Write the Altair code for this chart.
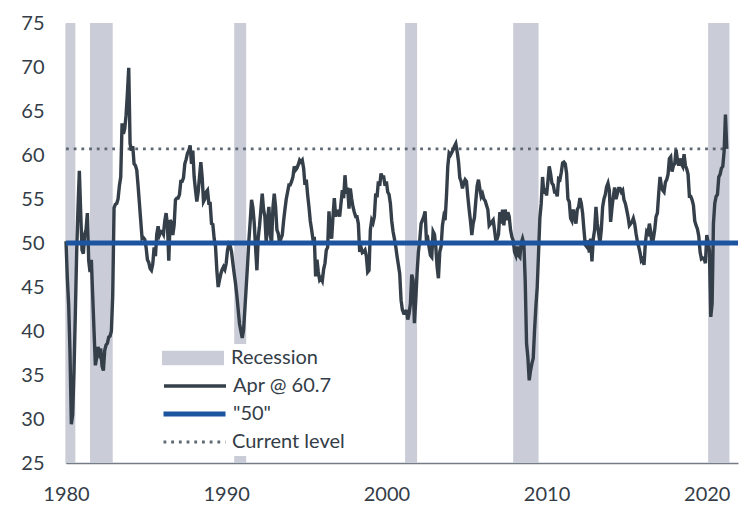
import altair as alt
import pandas as pd

# ISM-style manufacturing index, monthly, Jan 1980 - Apr 2021
pmi_1980s = [
    50.2, 46.0, 43.0, 37.5, 29.4, 30.5, 35.5, 42.0, 49.0, 54.0, 58.2, 53.5,  # 1980
    49.2, 48.8, 51.0, 51.5, 53.4, 48.0, 46.7, 48.1, 44.0, 40.0, 36.1, 37.0,  # 1981
    38.2, 37.5, 38.0, 36.0, 35.5, 37.8, 38.4, 38.6, 39.3, 39.4, 40.0, 44.0,  # 1982
    54.0, 54.4, 54.5, 55.0, 56.5, 57.5, 63.6, 62.4, 63.0, 64.5, 67.0, 69.9,  # 1983
    61.3, 60.5, 61.0, 59.0, 58.8, 58.3, 56.5, 54.5, 52.5, 50.5, 50.6, 50.4,  # 1984
    49.5, 48.1, 47.8, 47.1, 46.9, 47.6, 49.5, 48.5, 51.0, 51.9, 50.9, 51.3,  # 1985
    51.3, 51.0, 52.5, 53.4, 52.0, 48.0, 52.6, 52.3, 50.9, 52.0, 54.9, 55.1,  # 1986
    55.1, 55.5, 57.0, 57.0, 57.4, 59.0, 59.5, 60.2, 60.5, 61.1, 59.0, 60.5,  # 1987
    57.5, 56.0, 54.7, 55.8, 57.5, 59.2, 57.5, 54.7, 55.0, 55.8, 56.0, 54.5,  # 1988
    54.5, 52.2, 52.1, 50.5, 49.6, 46.9, 45.0, 45.8, 46.5, 47.0, 47.3, 47.0,  # 1989
]
pmi_1990s = [
    47.7, 49.2, 49.9, 49.7, 49.0, 47.7, 46.5, 45.4, 44.0, 42.4, 40.8, 40.0,  # 1990
    39.2, 40.1, 42.5, 45.0, 47.5, 50.3, 52.5, 54.9, 54.0, 52.3, 49.5, 46.9,  # 1991
    50.6, 52.0, 53.8, 55.6, 53.8, 53.0, 50.0, 52.6, 54.1, 50.9, 50.0, 54.0,  # 1992
    55.6, 54.1, 51.5, 51.1, 50.0, 50.5, 50.9, 52.5, 53.8, 55.0, 55.8, 56.6,  # 1993
    56.6, 57.0, 57.5, 58.7, 58.3, 58.5, 58.9, 59.4, 59.2, 59.4, 58.5, 56.6,  # 1994
    57.2, 55.5, 54.1, 52.5, 51.5, 50.4, 50.7, 46.2, 48.1, 46.7, 45.8, 46.0,  # 1995
    45.7, 47.0, 47.7, 49.2, 49.5, 53.6, 51.1, 50.5, 53.0, 55.1, 53.0, 53.6,  # 1996
    53.6, 53.0, 54.5, 56.0, 55.1, 57.7, 55.6, 56.3, 53.9, 56.2, 55.0, 54.1,  # 1997
    53.5, 53.0, 53.0, 52.2, 49.0, 49.5, 48.9, 49.0, 49.2, 48.5, 46.7, 46.9,  # 1998
    51.5, 52.6, 52.3, 53.0, 55.6, 55.2, 57.0, 56.5, 57.9, 57.5, 57.5, 56.5,  # 1999
]
pmi_2000s = [
    57.0, 55.8, 55.5, 54.5, 52.5, 51.3, 50.5, 49.6, 48.5, 47.5, 46.5, 43.5,  # 2000
    42.4, 42.0, 42.0, 42.4, 41.3, 42.0, 43.1, 46.4, 45.8, 40.9, 43.5, 46.6,  # 2001
    49.0, 50.3, 52.2, 52.6, 53.0, 53.6, 50.3, 50.5, 49.5, 48.6, 48.4, 51.3,  # 2002
    51.0, 49.6, 47.3, 46.0, 49.0, 49.6, 52.0, 53.0, 52.6, 55.3, 58.7, 60.2,  # 2003
    60.0, 60.3, 60.6, 61.0, 61.3, 60.4, 59.3, 57.4, 57.0, 56.2, 56.8, 57.2,  # 2004
    57.0, 55.3, 53.8, 52.5, 50.9, 52.2, 52.9, 54.8, 56.5, 57.2, 56.2, 55.3,  # 2005
    55.6, 55.0, 54.8, 54.3, 53.8, 52.0, 52.2, 52.4, 52.6, 51.5, 50.3, 50.5,  # 2006
    51.0, 53.5, 52.2, 53.8, 52.0, 53.8, 52.6, 53.5, 53.0, 51.5, 50.7, 50.3,  # 2007
    49.0, 48.6, 49.6, 48.6, 48.4, 50.0, 50.5, 49.9, 45.7, 38.6, 37.0, 34.4,  # 2008
    35.5, 36.3, 36.9, 40.1, 42.8, 45.0, 48.9, 52.9, 54.5, 57.5, 55.6, 56.2,  # 2009
]
pmi_2010s = [
    55.4, 57.0, 58.7, 57.9, 56.8, 56.6, 55.8, 55.8, 55.3, 57.3, 57.2, 58.0,  # 2010
    59.1, 59.2, 59.0, 57.9, 55.0, 54.7, 52.8, 52.5, 53.8, 53.0, 52.2, 53.8,  # 2011
    54.1, 55.1, 54.5, 53.4, 51.5, 49.8, 49.6, 50.3, 48.9, 50.5, 47.9, 50.5,  # 2012
    51.5, 54.1, 52.2, 51.1, 50.0, 51.5, 54.1, 55.0, 55.5, 56.4, 56.8, 56.0,  # 2013
    52.4, 54.0, 55.3, 56.3, 55.0, 55.6, 56.2, 56.2, 55.8, 56.0, 54.9, 54.5,  # 2014
    53.8, 53.0, 52.0, 52.2, 52.4, 52.8, 52.2, 51.1, 50.2, 49.6, 48.9, 48.0,  # 2015
    48.2, 47.5, 50.0, 51.3, 51.1, 52.2, 51.3, 49.8, 50.5, 51.5, 53.0, 53.4,  # 2016
    55.6, 57.5, 56.5, 56.0, 55.8, 56.9, 57.2, 57.8, 59.6, 59.8, 58.1, 58.8,  # 2017
    59.0, 60.6, 59.5, 58.8, 59.6, 59.0, 58.7, 60.1, 58.8, 58.4, 57.8, 55.3,  # 2018
    55.3, 54.9, 54.3, 52.5, 52.0, 51.6, 50.8, 49.0, 48.2, 48.3, 48.2, 47.7,  # 2019
]
pmi_2020s = [
    50.9, 50.1, 49.1, 41.6, 43.1, 52.2, 54.5, 55.3, 55.5, 57.5, 57.8, 58.5,  # 2020
    58.7, 60.4, 64.6, 60.7,                                                  # 2021
]

recession_start = ["1980-01", "1981-07", "1990-07", "2001-03", "2007-12", "2020-02"]
recession_end = ["1980-08", "1982-12", "1991-04", "2001-12", "2009-07", "2021-06"]

x_ticks = [1980, 1990, 2000, 2010, 2020]
y_ticks = [25, 30, 35, 40, 45, 50, 55, 60, 65, 70, 75]

label_recession = "Recession"
label_series = "Apr @ 60.7"
label_fifty = '"50"'
label_current = "Current level"
threshold = 50
current_level = 60.7

start_year = 1980
x_max = 2021.95

# ---- build tables ----
values = pmi_1980s + pmi_1990s + pmi_2000s + pmi_2010s + pmi_2020s
t = [start_year + i / 12 for i in range(len(values))]
pmi_df = pd.DataFrame({"t": t, "value": values, "label": label_series})


def to_dec(s):
    y, m = s.split("-")
    return int(y) + (int(m) - 1) / 12


rec_df = pd.DataFrame({
    "start": [to_dec(s) for s in recession_start],
    "end": [to_dec(s) for s in recession_end],
    "label": label_recession,
})
fifty_df = pd.DataFrame({"value": [threshold], "label": [label_fifty]})
cur_df = pd.DataFrame({"t0": [t[0]], "t1": [t[-1]], "value": [current_level], "label": [label_current]})

REC = "#cacdd8"
LINE = "#353f4a"
BLUE = "#1c54a0"
DOT = "#5d6874"
TXT = "#343d47"

W_LINE = 3.4
W_BLUE = 5
W_DOT = 2.8
DASH = [2.8, 4.9]

xs = alt.Scale(domain=[start_year, x_max], nice=False, zero=False)
ys = alt.Scale(domain=[y_ticks[0], y_ticks[-1]], nice=False, zero=False)
x_axis = alt.Axis(values=x_ticks, format="d", title=None, labelPadding=21, labelFlush=False)
y_axis = alt.Axis(values=y_ticks, format="d", title=None, labelPadding=22, labelFlush=False)


def leg(lx, ly, off, **kw):
    return alt.Legend(title=None, orient="none", legendX=lx, legendY=ly,
                      symbolSize=3844, clipHeight=20, padding=4,
                      fillColor="white", labelOffset=off, **kw)


rects = alt.Chart(rec_df).mark_rect().encode(
    x=alt.X("start:Q", scale=xs, axis=x_axis),
    x2="end:Q",
    y=alt.YDatum(y_ticks[-1], type="quantitative", scale=ys, axis=y_axis),
    y2=alt.Y2Datum(y_ticks[0]),
    fill=alt.Fill("label:N", scale=alt.Scale(domain=[label_recession], range=[REC]),
                  legend=leg(92, 321, 7, symbolType="M-1,-0.23H1V0.23H-1Z", symbolStrokeWidth=0)),
)

dotted = alt.Chart(cur_df).mark_rule(strokeWidth=W_DOT, strokeDash=DASH).encode(
    x=alt.X("t0:Q", scale=xs, axis=x_axis),
    x2="t1:Q",
    y=alt.Y("value:Q", scale=ys, axis=y_axis),
    stroke=alt.Stroke("label:N", scale=alt.Scale(domain=[label_current], range=[DOT]),
                      legend=leg(92, 405, 5, symbolType="stroke",
                                 symbolStrokeWidth=W_DOT, symbolDash=DASH)),
)

line = alt.Chart(pmi_df).mark_line(strokeWidth=W_LINE).encode(
    x=alt.X("t:Q", scale=xs, axis=x_axis),
    y=alt.Y("value:Q", scale=ys, axis=y_axis),
    stroke=alt.Stroke("label:N", scale=alt.Scale(domain=[label_series], range=[LINE]),
                      legend=leg(92, 349, 5, symbolType="stroke", symbolStrokeWidth=W_LINE)),
)

fifty = alt.Chart(fifty_df).mark_rule(strokeWidth=W_BLUE).encode(
    y=alt.Y("value:Q", scale=ys, axis=y_axis),
    stroke=alt.Stroke("label:N", scale=alt.Scale(domain=[label_fifty], range=[BLUE]),
                      legend=leg(91, 377, 5, symbolType="stroke", symbolStrokeWidth=W_BLUE)),
)

chart = alt.layer(rects, dotted, line, fifty).resolve_scale(
    stroke="independent", fill="independent"
).properties(
    width=672, height=440,
    autosize=alt.AutoSizeParams(type="none"),
    padding={"left": 58, "top": 15, "right": 5, "bottom": 44},
).configure_view(stroke=None).configure_axis(
    grid=False, ticks=False, tickSize=0, domain=True,
    domainColor="#737c87", domainWidth=1.5,
    labelFont="Lato", labelFontSize=20, labelColor=TXT,
).configure_legend(
    labelFont="Lato", labelFontSize=20, labelColor=TXT,
)

chart.save("out.html", embed_options={"renderer": "svg", "actions": False})
